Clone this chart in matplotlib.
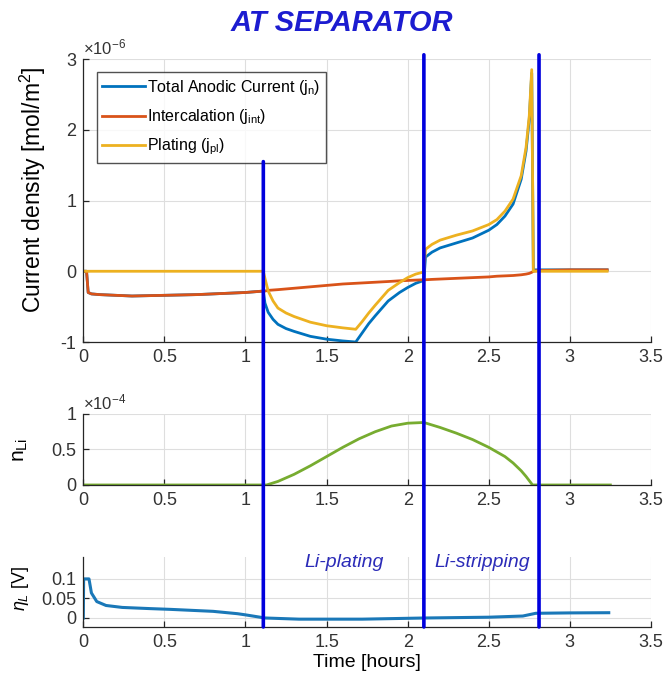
import numpy as np
import matplotlib
matplotlib.use("Agg")
import matplotlib.pyplot as plt
from matplotlib.patches import ConnectionPatch
from matplotlib.ticker import ScalarFormatter

plt.rcParams['font.family'] = ['Liberation Sans', 'DejaVu Sans']
plt.rcParams['mathtext.fontset'] = 'custom'
plt.rcParams['mathtext.rm'] = 'Liberation Sans'
plt.rcParams['mathtext.it'] = 'Liberation Sans:italic'
plt.rcParams['axes.unicode_minus'] = False

# ---- data ----
# current densities in units of 1e-6 mol/m2
t_cur = [0.0, 0.02, 0.03, 0.05, 0.1, 0.2, 0.3, 0.5, 0.7, 0.9, 1.0, 1.11, 1.12, 1.14, 1.17,
         1.2, 1.25, 1.3, 1.4, 1.5, 1.6, 1.68, 1.72, 1.76, 1.8, 1.88, 1.95, 2.0, 2.05, 2.10,
         2.11, 2.15, 2.2, 2.3, 2.4, 2.5, 2.55, 2.6, 2.65, 2.7, 2.73, 2.75, 2.765, 2.775,
         2.8, 2.9, 3.0, 3.1, 3.23]
j_int = [0, 0, -0.30, -0.32, -0.33, -0.34, -0.35, -0.34, -0.33, -0.31, -0.30, -0.28, -0.28,
         -0.27, -0.265, -0.26, -0.25, -0.24, -0.22, -0.20, -0.18, -0.17, -0.165, -0.16,
         -0.155, -0.145, -0.135, -0.13, -0.125, -0.12, -0.12, -0.115, -0.11, -0.10, -0.09,
         -0.08, -0.07, -0.065, -0.06, -0.05, -0.04, -0.03, -0.015, 0.0, 0.01, 0.015, 0.02,
         0.02, 0.02]
j_n = [0, 0, -0.30, -0.32, -0.33, -0.34, -0.35, -0.34, -0.33, -0.31, -0.30, -0.28, -0.45,
       -0.58, -0.68, -0.75, -0.81, -0.85, -0.92, -0.96, -0.985, -1.0, -0.87, -0.74, -0.63,
       -0.42, -0.30, -0.23, -0.17, -0.13, 0.20, 0.27, 0.33, 0.40, 0.47, 0.58, 0.66, 0.78,
       0.95, 1.30, 1.70, 2.15, 2.80, 0.02, 0.02, 0.02, 0.02, 0.02, 0.02]
j_pl = [0, 0, 0, 0, 0, 0, 0, 0, 0, 0, 0, 0, -0.10, -0.28, -0.42, -0.52, -0.59, -0.64, -0.72,
        -0.77, -0.80, -0.82, -0.71, -0.59, -0.48, -0.27, -0.16, -0.09, -0.04, -0.01, 0.31,
        0.38, 0.44, 0.51, 0.57, 0.66, 0.73, 0.85, 1.02, 1.35, 1.75, 2.20, 2.85, 0.0, 0.0,
        0.0, 0.0, 0.0, 0.0]

# plated lithium, units of 1e-4
t_li = [0, 1.13, 1.2, 1.3, 1.4, 1.5, 1.6, 1.7, 1.8, 1.9, 2.0, 2.1, 2.2, 2.3, 2.4, 2.5, 2.6,
        2.65, 2.7, 2.73, 2.77, 3.25]
n_li = [0, 0, 0.05, 0.15, 0.27, 0.40, 0.53, 0.65, 0.75, 0.83, 0.87, 0.88, 0.81, 0.73, 0.64,
        0.53, 0.40, 0.31, 0.20, 0.12, 0, 0]

# overpotential [V]
t_eta = [0, 0.002, 0.035, 0.05, 0.083, 0.14, 0.24, 0.41, 0.54, 0.8, 0.95, 1.0, 1.12, 1.33,
         1.72, 2.11, 2.5, 2.71, 2.79, 3.0, 3.24]
eta = [0, 0.1, 0.1, 0.064, 0.042, 0.032, 0.027, 0.024, 0.022, 0.017, 0.011, 0.008, 0.0,
       -0.003, -0.003, 0.0, 0.002, 0.005, 0.012, 0.013, 0.0135]

t_marks = [1.11, 2.10, 2.81]
mark_tops = [1.55, 3.06, 3.06]

xticks = [0, 0.5, 1, 1.5, 2, 2.5, 3, 3.5]


class PlainSci(ScalarFormatter):
    # keep the x10^n offset but print tick numbers like 0, 0.5, 1
    def _set_format(self):
        self.format = '%g'


fig = plt.figure(figsize=(6.67, 6.88), dpi=100)
ax1 = fig.add_axes([0.1249, 0.5029, 0.851, 0.4113])
ax2 = fig.add_axes([0.1249, 0.2951, 0.851, 0.1032])
ax3 = fig.add_axes([0.1249, 0.0887, 0.851, 0.1017])

for ax in (ax1, ax2, ax3):
    ax.set_xlim(0, 3.5)
    ax.set_xticks(xticks)
    ax.set_xticklabels(['0', '0.5', '1', '1.5', '2', '2.5', '3', '3.5'])
    ax.grid(True, color='#dedede', lw=0.8)
    ax.set_axisbelow(True)
    for s in ('top', 'right'):
        ax.spines[s].set_visible(False)
    for s in ('left', 'bottom'):
        ax.spines[s].set_color('#262626')
        ax.spines[s].set_linewidth(0.9)
    ax.tick_params(direction='in', length=4, width=0.9, color='#262626',
                   labelsize=13, labelcolor='#333333', pad=5)

j_scale = 1e-6
ax1.plot(t_cur, np.array(j_n) * j_scale, color='#0072BD', lw=2, label=r'Total Anodic Current (j$_{\mathrm{n}}$)')
ax1.plot(t_cur, np.array(j_int) * j_scale, color='#D95319', lw=2, label=r'Intercalation (j$_{\mathrm{int}}$)')
ax1.plot(t_cur, np.array(j_pl) * j_scale, color='#EDB120', lw=2, label=r'Plating (j$_{\mathrm{pl}}$)')
ax1.set_ylim(-1e-6, 3e-6)
ax1.set_yticks(np.array([-1, 0, 1, 2, 3]) * j_scale)
fmt1 = PlainSci(useMathText=True)
fmt1.set_powerlimits((0, 0))
ax1.yaxis.set_major_formatter(fmt1)
ax1.yaxis.get_offset_text().set_fontsize(12)
ax1.set_ylabel(r'Current density [mol/m$^2$]', fontsize=16.5)
ax1.yaxis.set_label_coords(-0.063, 0.54)
leg = ax1.legend(loc='upper left', bbox_to_anchor=(0.0236, 0.953), borderaxespad=0,
                 fontsize=11.5, frameon=True, fancybox=False, edgecolor='#262626',
                 handlelength=2.7, labelspacing=0.65, handletextpad=0.1, borderpad=0.35)
leg.get_frame().set_linewidth(1.0)

ax2.plot(t_li, np.array(n_li) * 1e-4, color='#77AC30', lw=2)
ax2.set_ylim(0, 1e-4)
ax2.set_yticks([0, 0.5e-4, 1e-4])
fmt2 = PlainSci(useMathText=True)
fmt2.set_powerlimits((0, 0))
ax2.yaxis.set_major_formatter(fmt2)
ax2.yaxis.get_offset_text().set_fontsize(12)
ax2.set_ylabel(r'n$_{\mathrm{Li}}$', fontsize=15)
ax2.yaxis.set_label_coords(-0.094, 0.49)

ax3.plot(t_eta, eta, color='#1a78b8', lw=2.2)
ax3.set_ylim(-0.023, 0.156)
ax3.set_yticks([0, 0.05, 0.1])
ax3.set_yticklabels(['0', '0.05', '0.1'])
ax3.set_ylabel(r'$\eta_L$ [V]', fontsize=13)
ax3.yaxis.set_label_coords(-0.093, 0.55)
ax3.set_xlabel('Time [hours]', fontsize=14, labelpad=2)
ax3.text(1.61, 0.142, 'Li-plating', style='italic', color='#2b2bb8', fontsize=14,
         ha='center', va='center')
ax3.text(2.46, 0.142, 'Li-stripping', style='italic', color='#2b2bb8', fontsize=14,
         ha='center', va='center')

# vertical markers across all three panels
for tm, top in zip(t_marks, mark_tops):
    con = ConnectionPatch(xyA=(tm, top * j_scale), coordsA='data', axesA=ax1,
                          xyB=(tm, -0.023), coordsB='data', axesB=ax3,
                          color='#0000dd', lw=2.6, zorder=10)
    con.set_annotation_clip(False)
    fig.add_artist(con)

fig.text(0.512, 0.966, 'AT SEPARATOR', ha='center', va='center', fontsize=21,
         fontweight='bold', style='italic', color='#1c1cd0')

fig.savefig('out.png', dpi=100)
